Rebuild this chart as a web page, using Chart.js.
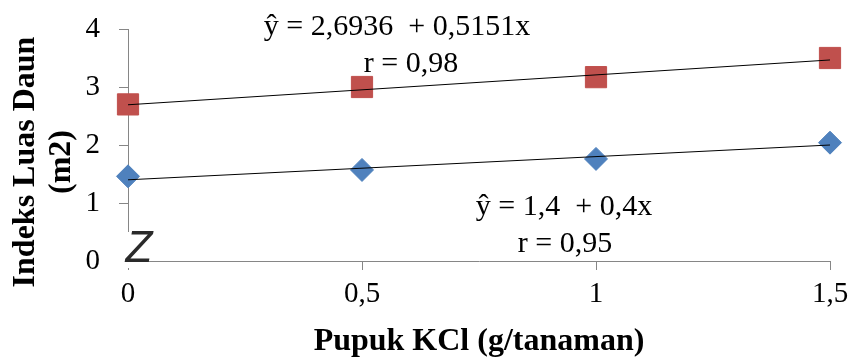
<!DOCTYPE html>
<html>
<head>
<meta charset="utf-8">
<script src="https://cdn.jsdelivr.net/npm/chart.js@4/dist/chart.umd.min.js"></script>
<style>
  html, body { margin: 0; padding: 0; background: #fff; }
  #wrap { width: 852px; height: 361px; }
</style>
</head>
<body>
<div id="wrap"><canvas id="main-chart"></canvas></div>
<script>
const doses = [0, 0.5, 1, 1.5];
const seriesRed = [2.70, 3.00, 3.17, 3.50];
const seriesBlue = [1.46, 1.57, 1.76, 2.04];
const yTicks = [0, 1, 2, 3, 4];
const xTicks = [0, 0.5, 1, 1.5];

// regression coefficients printed on the chart
const redFit = { a: 2.6936, b: 0.5151, r: "0,98" };
const blueFit = { a: 1.4, b: 0.4, r: "0,95" };

const FONT = "'Liberation Serif', 'Times New Roman', serif";
const AXIS_GREY = "#868686";

const toPoints = (xs, ys) => xs.map((x, i) => ({ x, y: ys[i] }));
const fitLine = fit => [
  { x: doses[0], y: fit.a + fit.b * doses[0] },
  { x: doses[doses.length - 1], y: fit.a + fit.b * doses[doses.length - 1] }
];
const comma = v => String(v).replace(".", ",");

const textPlugin = {
  id: "texts",
  afterDraw(chart) {
    const ctx = chart.ctx;
    ctx.save();
    ctx.fillStyle = "#000";
    ctx.textAlign = "center";
    ctx.textBaseline = "alphabetic";

    // regression labels
    ctx.font = "30px " + FONT;
    ctx.fillText("ŷ = 2,6936  + 0,5151x", 397, 35);
    ctx.fillText("r = " + redFit.r, 411, 72);
    ctx.fillText("ŷ = 1,4  + 0,4x", 564, 215);
    ctx.fillText("r = " + blueFit.r, 565, 252);

    // axis titles
    ctx.font = "bold 32px " + FONT;
    ctx.fillText("Pupuk KCl (g/tanaman)", 479, 350);
    ctx.save();
    ctx.translate(0, 162);
    ctx.rotate(-Math.PI / 2);
    ctx.fillText("Indeks Luas Daun", 0, 34);
    ctx.fillText("(m2)", 0, 70);
    ctx.restore();

    // axis break mark
    ctx.fillStyle = "#fff";
    ctx.fillRect(116, 232, 31, 36);
    ctx.filter = "blur(0.6px)";
    ctx.fillStyle = "#2a2a2a";
    ctx.font = "italic 44px 'Liberation Sans', sans-serif";
    ctx.fillText("Z", 139, 262);
    ctx.restore();
  }
};

new Chart(document.getElementById("main-chart"), {
  type: "scatter",
  data: {
    datasets: [
      {
        label: "merah",
        data: toPoints(doses, seriesRed),
        pointStyle: "rect",
        pointRadius: 15,
        pointHoverRadius: 15,
        backgroundColor: "#C0504D",
        borderColor: "#C0504D",
        clip: false,
        order: 2
      },
      {
        label: "biru",
        data: toPoints(doses, seriesBlue),
        pointStyle: "rectRot",
        pointRadius: 11.5,
        pointHoverRadius: 11.5,
        backgroundColor: "#4F81BD",
        borderColor: "#4F81BD",
        clip: false,
        order: 2
      },
      {
        label: "fit merah",
        type: "line",
        data: fitLine(redFit),
        borderColor: "#000",
        borderWidth: 1,
        pointRadius: 0,
        clip: false,
        order: 1
      },
      {
        label: "fit biru",
        type: "line",
        data: fitLine(blueFit),
        borderColor: "#000",
        borderWidth: 1,
        pointRadius: 0,
        clip: false,
        order: 1
      }
    ]
  },
  options: {
    responsive: true,
    maintainAspectRatio: false,
    animation: false,
    layout: { padding: { left: 0, right: 22, top: 29, bottom: 0 } },
    plugins: { legend: { display: false }, tooltip: { enabled: false } },
    scales: {
      x: {
        type: "linear",
        min: 0,
        max: 1.5,
        afterBuildTicks: s => { s.ticks = xTicks.map(v => ({ value: v })); },
        afterFit: s => { s.height = 100; },
        grid: { drawOnChartArea: false, tickLength: 9, color: AXIS_GREY },
        border: { color: AXIS_GREY, width: 1 },
        ticks: {
          color: "#000",
          font: { family: FONT, size: 29, lineHeight: 1.68 },
          padding: 0,
          callback: v => comma(v)
        }
      },
      y: {
        min: 0,
        max: 4,
        afterBuildTicks: s => { s.ticks = yTicks.map(v => ({ value: v })); },
        afterFit: s => { s.width = 128; },
        grid: { drawOnChartArea: false, tickLength: 9, color: AXIS_GREY },
        border: { color: AXIS_GREY, width: 1 },
        ticks: {
          color: "#000",
          font: { family: FONT, size: 29, lineHeight: 0.6 },
          padding: 19,
          callback: v => comma(v)
        }
      }
    }
  },
  plugins: [textPlugin]
});
</script>
</body>
</html>
